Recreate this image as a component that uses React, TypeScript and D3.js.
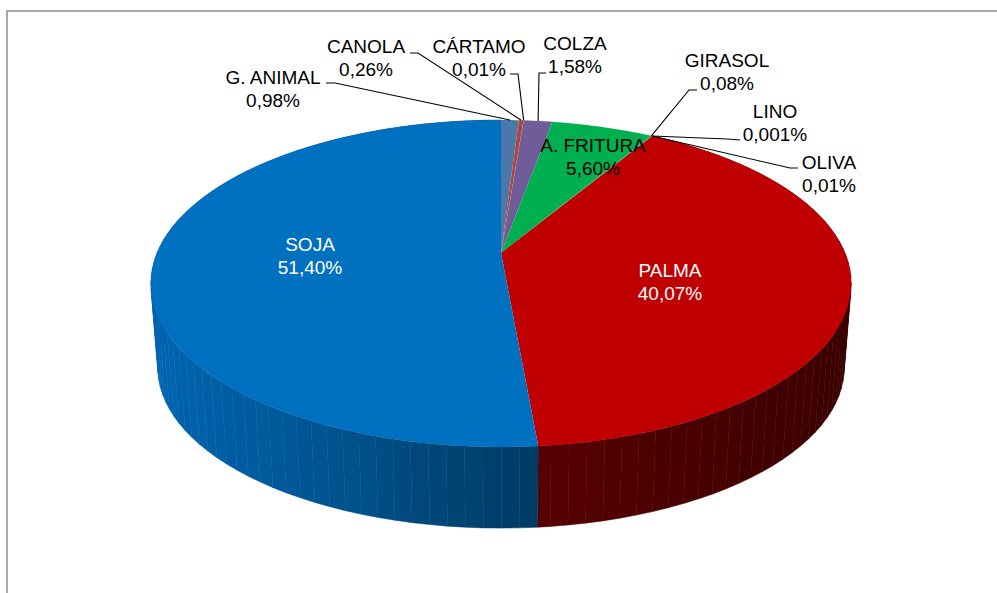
import React, { useEffect, useRef } from "react";
import * as d3 from "d3";

// values, clockwise from the top of the pie
const categories = ["G. ANIMAL", "CANOLA", "CÁRTAMO", "COLZA", "A. FRITURA", "GIRASOL", "LINO", "OLIVA", "PALMA", "SOJA"];
const values = [0.98, 0.26, 0.01, 1.58, 5.6, 0.08, 0.001, 0.01, 40.07, 51.4];
const valueLabels = ["0,98%", "0,26%", "0,01%", "1,58%", "5,60%", "0,08%", "0,001%", "0,01%", "40,07%", "51,40%"];
const topColors = ["#4a78a8", "#b0453f", "#a0a040", "#705c98", "#00b050", "#00b050", "#4bacc6", "#f79646", "#c00000", "#0070c0"];

// label placement: text centre, first and second line y, optional leader elbow
type Placement = { x: number; y: number; elbow?: [number, number]; lineEnd?: [number, number]; color?: string };
const placements: Record<string, Placement> = {
  "G. ANIMAL": { x: 273, y: 84, lineEnd: [326, 83], elbow: [335, 83] },
  CANOLA: { x: 366, y: 53, lineEnd: [410, 53], elbow: [418, 53] },
  "CÁRTAMO": { x: 479, y: 53, lineEnd: [510, 74], elbow: [518, 74] },
  COLZA: { x: 575, y: 50, lineEnd: [546, 73], elbow: [539, 73] },
  "A. FRITURA": { x: 593, y: 152 },
  GIRASOL: { x: 727, y: 67, lineEnd: [697, 90], elbow: [689, 90] },
  LINO: { x: 775, y: 118, lineEnd: [740, 140], elbow: [727, 139] },
  OLIVA: { x: 829, y: 169, lineEnd: [798, 168], elbow: [790, 168] },
  PALMA: { x: 670, y: 277, color: "#fff" },
  SOJA: { x: 310, y: 251, color: "#fff" },
};

const width = 997;
const height = 593;
const apexX = 501;
const apexY = 253;
const radiusX = 344;
const radiusY = 157.8;
const tilt = 0.1865; // perspective: back of the disc is smaller
const depth = 85;
const baseScale = 0.98;

// unit disc angle (clockwise from top) to screen, top face or base
function project(angle: number, base = false): [number, number] {
  const u = Math.sin(angle);
  const v = Math.cos(angle);
  const w = 1 + tilt * v;
  const s = base ? baseScale : 1;
  return [apexX + (s * radiusX * u) / w, apexY + (base ? depth : 0) - (s * radiusY * v) / w];
}

export default function App() {
  const ref = useRef<SVGSVGElement>(null);

  useEffect(() => {
    const svg = d3.select(ref.current);
    svg.selectAll("*").remove();

    const arcs = d3.pie<number>().sort(null).value((d) => d)(values);
    const line = d3.line();

    // chart frame, only top and left edges are visible
    svg.append("path")
      .attr("d", `M7,${height}V11H${width}`)
      .attr("fill", "none")
      .attr("stroke", "#a9a9a9")
      .attr("stroke-width", 2);

    const wallColor: Record<string, d3.ScaleLinear<string, string>> = {
      SOJA: d3.scaleLinear<string>().domain([155, 340, 537]).range(["#0064b0", "#00528e", "#003a62"]),
      PALMA: d3.scaleLinear<string>().domain([538, 850]).range(["#570000", "#3a0000"]),
    };

    // side wall as shaded strips, the top face hides the back part
    arcs.forEach((a, i) => {
      const scale = wallColor[categories[i]];
      if (!scale) return;
      const steps = d3.range(a.startAngle, a.endAngle, (2.5 * Math.PI) / 180).concat(a.endAngle);
      d3.pairs(steps).forEach(([s, e]) => {
        const [x0] = project(s);
        const [x1] = project(e);
        const color = scale((x0 + x1) / 2);
        svg.append("path")
          .attr("d", line([project(s), project(e), project(e, true), project(s, true)]) + "Z")
          .attr("fill", color)
          .attr("stroke", color)
          .attr("stroke-width", 0.5);
      });
    });

    // top face slices
    arcs.forEach((a, i) => {
      const steps = d3.range(a.startAngle, a.endAngle, Math.PI / 180).concat(a.endAngle);
      const pts: [number, number][] = [[apexX, apexY], ...steps.map((t) => project(t))];
      svg.append("path")
        .attr("d", line(pts) + "Z")
        .attr("fill", topColors[i]);
    });

    // leader lines
    arcs.forEach((a, i) => {
      const p = placements[categories[i]];
      if (!p.elbow || !p.lineEnd) return;
      const end = project((a.startAngle + a.endAngle) / 2);
      svg.append("path")
        .attr("d", line([p.lineEnd, p.elbow, end]))
        .attr("fill", "none")
        .attr("stroke", "#000")
        .attr("stroke-width", 1.1);
    });

    // labels
    categories.forEach((c, i) => {
      const p = placements[c];
      const text = svg.append("text")
        .attr("text-anchor", "middle")
        .attr("font-family", "'Liberation Sans', Arial, sans-serif")
        .attr("font-size", 19)
        .attr("fill", p.color ?? "#000");
      text.append("tspan").attr("x", p.x).attr("y", p.y).text(c);
      text.append("tspan").attr("x", p.x).attr("y", p.y + 23).text(valueLabels[i]);
    });
  }, []);

  return (
    <svg
      ref={ref}
      width={width}
      height={height}
      style={{ position: "absolute", left: 0, top: 0, display: "block", background: "#fff" }}
    />
  );
}
